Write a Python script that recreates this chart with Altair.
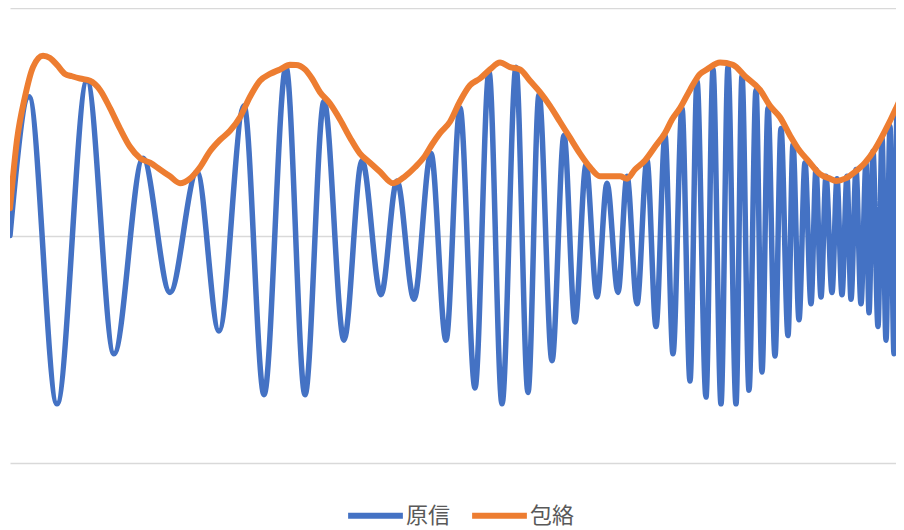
import altair as alt
import pandas as pd

# Original signal: local extrema (sample index, amplitude)
signal_n = [0, 19, 47, 77, 104, 133, 160, 187, 209, 234, 254, 276, 295, 314, 334, 352,
            371, 387, 404, 421, 436, 450, 465, 479, 492, 506, 518, 529, 542, 554, 565, 576,
            587, 597, 608, 617, 627, 637, 646, 655, 663, 672, 680, 687, 696, 703, 711, 718,
            726, 732, 739, 746, 752, 758, 765, 771, 778, 783, 789, 795, 801, 806, 811, 816,
            822, 827, 832, 837, 841, 846, 851, 856, 859, 863, 868, 872, 876, 880, 884, 887,
            892, 896]
signal_v = [0.00, 0.61, -0.74, 0.68, -0.52, 0.34, -0.25, 0.28, -0.42, 0.57, -0.70, 0.74,
            -0.70, 0.59, -0.46, 0.33, -0.26, 0.24, -0.28, 0.36, -0.46, 0.56, -0.67, 0.72,
            -0.74, 0.74, -0.69, 0.62, -0.55, 0.44, -0.38, 0.31, -0.27, 0.23, -0.25, 0.26,
            -0.30, 0.33, -0.40, 0.44, -0.52, 0.56, -0.64, 0.68, -0.71, 0.73, -0.74, 0.74,
            -0.74, 0.70, -0.68, 0.64, -0.60, 0.56, -0.53, 0.47, -0.44, 0.40, -0.37, 0.32,
            -0.30, 0.29, -0.27, 0.26, -0.25, 0.25, -0.26, 0.26, -0.28, 0.29, -0.30, 0.32,
            -0.34, 0.37, -0.40, 0.43, -0.46, 0.48, -0.52, 0.54, -0.57, 0.59]

# Envelope
env_n = [0, 7, 15, 23, 33, 40, 47, 55, 62, 70, 80, 90, 100, 110, 120, 130, 140, 150, 160,
         170, 180, 190, 200, 210, 220, 230, 240, 250, 260, 270, 280, 286, 295, 302, 310, 320,
         330, 340, 350, 360, 370, 383, 395, 405, 415, 422, 430, 440, 450, 460, 470, 480, 490,
         500, 510, 520, 530, 540, 550, 560, 570, 580, 590, 600, 610, 617, 625, 635, 645, 655,
         662, 670, 680, 690, 697, 710, 723, 735, 750, 760, 770, 780, 790, 798, 810, 820, 826,
         835, 845, 855, 865, 875, 885, 890, 895]
env_v = [0.12, 0.42, 0.61, 0.74, 0.79, 0.78, 0.75, 0.71, 0.70, 0.69, 0.68, 0.64, 0.56, 0.47,
         0.39, 0.34, 0.32, 0.29, 0.26, 0.23, 0.25, 0.30, 0.37, 0.42, 0.46, 0.52, 0.61, 0.68,
         0.71, 0.73, 0.75, 0.75, 0.73, 0.69, 0.63, 0.58, 0.51, 0.43, 0.36, 0.32, 0.28, 0.23,
         0.26, 0.30, 0.35, 0.40, 0.45, 0.50, 0.59, 0.66, 0.69, 0.73, 0.76, 0.74, 0.73, 0.68,
         0.63, 0.57, 0.50, 0.43, 0.36, 0.30, 0.26, 0.26, 0.26, 0.25, 0.29, 0.33, 0.39, 0.45,
         0.51, 0.56, 0.64, 0.71, 0.73, 0.76, 0.75, 0.70, 0.64, 0.57, 0.52, 0.44, 0.37, 0.33,
         0.27, 0.25, 0.24, 0.25, 0.28, 0.32, 0.38, 0.46, 0.55, 0.60, 0.70]

series_names = ["原信", "包絡"]
series_colors = ["#4472C4", "#ED7D31"]

df_sig = pd.DataFrame({"n": signal_n, "v": signal_v, "series": series_names[0]})
df_env = pd.DataFrame({"n": env_n, "v": env_v, "series": series_names[1]})

x = alt.X("n:Q", scale=alt.Scale(domain=[0, 886], nice=False, zero=False), axis=None)
y = alt.Y("v:Q", scale=alt.Scale(domain=[-1, 1], nice=False),
          axis=alt.Axis(values=[-1, 0, 1], grid=True, domain=False, ticks=False,
                        labels=False, title=None, gridColor="#D9D9D9", gridWidth=1.5))
color = alt.Color(
    "series:N",
    scale=alt.Scale(domain=series_names, range=series_colors),
    sort=series_names,
    legend=alt.Legend(
        orient="none", legendX=335, legendY=477, direction="horizontal", title=None,
        symbolType="stroke", symbolSize=3000, symbolStrokeWidth=6,
        labelFontSize=22, labelFont="Noto Sans CJK JP", labelColor="#595959",
        columnPadding=9, labelOffset=0,
    ),
)

sig = alt.Chart(df_sig).mark_line(
    interpolate="monotone", strokeWidth=5.5, strokeCap="round", strokeJoin="round", clip=True
).encode(x=x, y=y, color=color)

env = alt.Chart(df_env).mark_line(
    interpolate="monotone", strokeWidth=6, strokeCap="round", strokeJoin="round", clip=True
).encode(x=x, y=y, color=color)

chart = alt.layer(sig, env).properties(
    width=886, height=455,
    padding={"left": 2, "top": 0, "right": 0, "bottom": 0},
).configure_view(stroke=None)

chart.save("out.html", embed_options={"renderer": "svg", "actions": False})
